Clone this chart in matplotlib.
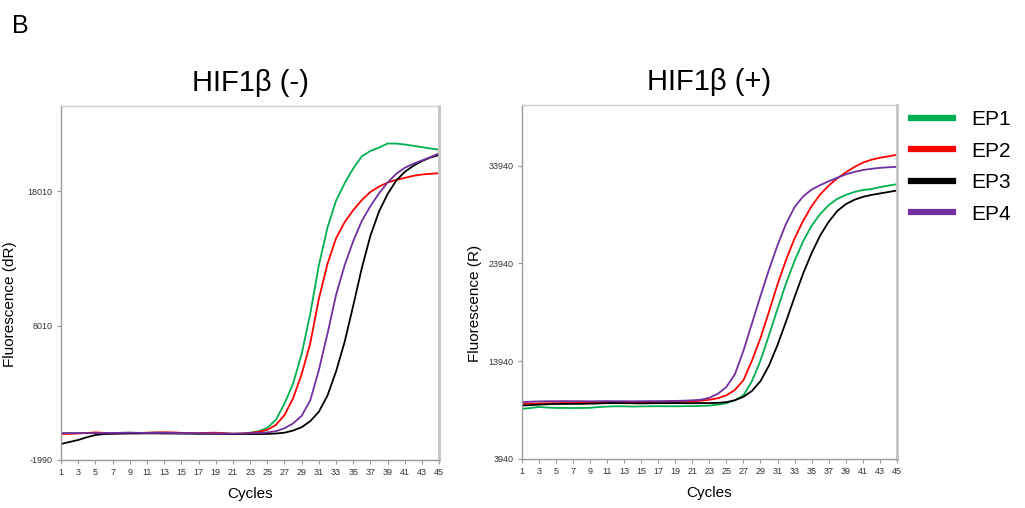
import numpy as np
import matplotlib
matplotlib.use("Agg")
import matplotlib.pyplot as plt
from matplotlib.lines import Line2D

plt.rcParams['font.family'] = ['Liberation Sans', 'DejaVu Sans']

cycles = np.arange(1, 46)
xtick_vals = list(range(1, 46, 2))
labels = ["EP1", "EP2", "EP3", "EP4"]
colors = ["#00b050", "#ff0000", "#000000", "#7030a0"]

# HIF1b (-) : Fluorescence (dR)
neg_ep1 = [0, 0, 10, 20, 30, 20, 10, 30, 40, 20, 30, 50, 40, 30, 20, 0, -20, 0, 10, -10, -40, -30,
           40, 150, 400, 1000, 2200, 3700, 5900, 8900, 12500, 15300, 17300, 18600, 19700, 20600,
           21000, 21250, 21550, 21550, 21480, 21380, 21280, 21180, 21100]
neg_ep2 = [-60, -40, -20, 20, 60, 30, -20, 10, 30, 20, 40, 60, 70, 60, 30, 10, 0, 30, 40, 0, -40, -20,
           20, 100, 250, 620, 1350, 2600, 4400, 6700, 10000, 12600, 14500, 15700, 16600, 17350,
           17950, 18350, 18650, 18850, 19000, 19150, 19250, 19300, 19350]
neg_ep3 = [-800, -650, -500, -300, -130, -60, -40, -30, -20, -20, -10, -10, -20, -20, -30, -30, -40,
           -40, -50, -50, -60, -60, -60, -60, -50, -20, 40, 200, 450, 900, 1600, 2800, 4600, 6800,
           9500, 12300, 14700, 16500, 17800, 18800, 19450, 19900, 20250, 20520, 20700]
neg_ep4 = [10, 10, 10, 10, 10, 20, 20, 30, 40, 30, 20, 20, 30, 20, 10, 10, 0, -10, -10, -20, -30, -20,
           0, 20, 60, 150, 370, 730, 1300, 2450, 4700, 7400, 10300, 12500, 14300, 15800, 16900,
           17850, 18650, 19300, 19750, 20050, 20300, 20550, 20830]

# HIF1b (+) : Fluorescence (R)
pos_ep1 = [9060, 9150, 9265, 9200, 9160, 9160, 9150, 9160, 9170, 9250, 9300, 9330, 9330, 9300, 9320,
           9330, 9340, 9330, 9330, 9340, 9350, 9370, 9400, 9500, 9650, 9950, 10450, 11900, 14000,
           16600, 19300, 21900, 24200, 26200, 27800, 29000, 29900, 30550, 30950, 31250, 31450,
           31550, 31750, 31900, 32050]
pos_ep2 = [9550, 9600, 9620, 9640, 9650, 9660, 9660, 9670, 9680, 9690, 9700, 9720, 9730, 9740, 9750,
           9760, 9780, 9800, 9800, 9800, 9820, 9900, 10000, 10150, 10450, 11000, 12000, 14000,
           16300, 19000, 21800, 24300, 26500, 28300, 29800, 31000, 31900, 32650, 33250, 33800,
           34250, 34550, 34750, 34900, 35050]
pos_ep3 = [9400, 9450, 9500, 9540, 9570, 9570, 9580, 9580, 9600, 9620, 9650, 9660, 9650, 9640, 9630,
           9640, 9650, 9650, 9660, 9650, 9650, 9660, 9660, 9680, 9750, 9950, 10300, 10900, 11900,
           13500, 15600, 18000, 20500, 22900, 25000, 26800, 28200, 29300, 30000, 30450, 30750,
           30950, 31100, 31250, 31400]
pos_ep4 = [9740, 9800, 9830, 9850, 9850, 9860, 9850, 9850, 9840, 9850, 9860, 9850, 9850, 9840, 9850,
           9860, 9860, 9870, 9880, 9900, 9940, 10000, 10200, 10600, 11300, 12600, 15000, 17800,
           20600, 23300, 25800, 28000, 29700, 30800, 31500, 31950, 32350, 32700, 33050, 33300,
           33500, 33620, 33720, 33780, 33820]

panels = [
    dict(title="HIF1\u03b2 (-)", ylabel="Fluorescence (dR)", series=[neg_ep1, neg_ep2, neg_ep3, neg_ep4],
         yticks=[-1990, 8010, 18010], ylim=(-1990, 24350), rect=[0.0595, 0.0945, 0.369, 0.697],
         ylab_x=-0.135),
    dict(title="HIF1\u03b2 (+)", ylabel="Fluorescence (R)", series=[pos_ep1, pos_ep2, pos_ep3, pos_ep4],
         yticks=[3940, 13940, 23940, 33940], ylim=(3940, 40160), rect=[0.509, 0.0965, 0.366, 0.697],
         ylab_x=-0.125),
]

fig = plt.figure(figsize=(10.25, 5.08), dpi=100)
fig.text(0.012, 0.972, "B", fontsize=18, va="top", ha="left")

for p in panels:
    ax = fig.add_axes(p["rect"])
    for vals, c in zip(p["series"], colors):
        ax.plot(cycles, vals, color=c, lw=1.3)
    ax.set_xlim(1, 45)
    ax.set_ylim(*p["ylim"])
    ax.set_xticks(xtick_vals)
    ax.set_yticks(p["yticks"])
    ax.set_yticklabels([str(v) for v in p["yticks"]])
    ax.tick_params(labelsize=6.5, labelcolor="#333333", color="#999999", length=3, width=0.8, pad=3)
    for s in ["left", "bottom"]:
        ax.spines[s].set_color("#9a9a9a")
        ax.spines[s].set_linewidth(1.0)
    ax.spines["top"].set_color("#cccccc")
    ax.spines["top"].set_linewidth(1.0)
    ax.spines["right"].set_color("#c4c4c4")
    ax.spines["right"].set_linewidth(2.0)
    ax.set_title(p["title"], fontsize=21, pad=11)
    ax.set_xlabel("Cycles", fontsize=11, va="center")
    ax.xaxis.set_label_coords(0.5, -0.095)
    ax.set_ylabel(p["ylabel"], fontsize=11, va="center")
    ax.yaxis.set_label_coords(p["ylab_x"], 0.44)

handles = [Line2D([0], [0], color=c, lw=4.5) for c in colors]
fig.legend(handles, labels, loc="upper left", bbox_to_anchor=(0.889, 0.783), frameon=False,
           fontsize=15, handlelength=2.0, handletextpad=0.9, labelspacing=0.6,
           borderpad=0, borderaxespad=0)

fig.savefig("out.png", dpi=100)
